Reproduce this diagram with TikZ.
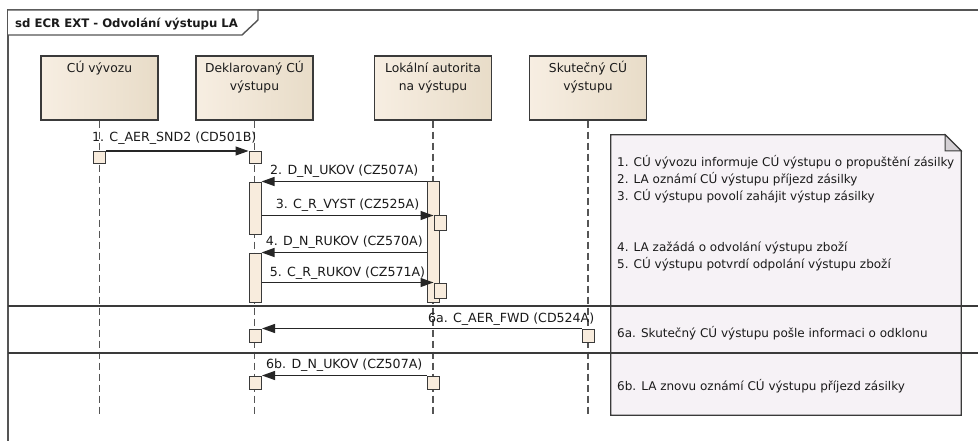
\documentclass[tikz,border=0pt]{standalone}
\usepackage{fontspec}
\setmainfont{DejaVu Sans}
\usetikzlibrary{arrows.meta}
\definecolor{framec}{HTML}{555555}
\definecolor{linec}{HTML}{3A3A3A}
\definecolor{txtc}{HTML}{1A1A1A}
\definecolor{headl}{HTML}{F7EEE2}
\definecolor{headr}{HTML}{E8DCC8}
\definecolor{actc}{HTML}{F8ECDD}
\definecolor{notec}{HTML}{F6F2F6}
\definecolor{foldc}{HTML}{D4D0D4}
\tikzset{
  head/.style={draw=linec, line width=1.2pt, left color=headl, right color=headr,
    minimum width=117pt, minimum height=64pt, inner sep=0pt},
  hl/.style={anchor=base, inner sep=0pt, text=txtc, font=\fontsize{12.3}{15}\selectfont},
  life/.style={draw=framec, line width=1.3pt, dash pattern=on 7pt off 4pt},
  act/.style={draw=linec, line width=1pt, fill=actc, minimum width=12pt, inner sep=0pt},
  msg/.style={draw=black!85, line width=1.1pt, -{Triangle[length=13pt,width=9pt]}},
  lbl/.style={inner sep=0pt, text=txtc, font=\fontsize{12.6}{15}\selectfont},
  nt/.style={anchor=base west, inner sep=0pt, text=txtc, font=\fontsize{12}{15}\selectfont},
  sepline/.style={draw=linec, line width=1.4pt},
}
\begin{document}
\begin{tikzpicture}[x=1pt,y=-1pt]
\useasboundingbox[fill=white] (0,0) rectangle (978,441);

% frame
\coordinate (ftl) at (8,10);
\coordinate (ftr) at (978,10);
\coordinate (fbl) at (8,441);
\draw[framec, line width=1.6pt] (fbl) -- (ftl) -- (ftr);
\draw[framec, line width=1.4pt, fill=white] (8,10) -- (258,10) -- (258,20) -- (242,35) -- (8,35);
\node[anchor=base west, inner sep=0pt, text=txtc, font=\bfseries\fontsize{11.7}{14}\selectfont] (title) at (15,28) {sd ECR EXT - Odvolání výstupu LA};

% note
\node[inner sep=0pt, minimum width=350pt, minimum height=280pt] (note) at (786,275) {};
\draw[linec, line width=1.3pt, fill=notec] (note.north west) -- ([xshift=-16pt]note.north east) -- ([yshift=-16pt]note.north east) -- (note.south east) -- (note.south west) -- cycle;
\draw[linec, line width=1pt, fill=foldc] ([xshift=-16pt]note.north east) -- ([xshift=-16pt,yshift=-16pt]note.north east) -- ([yshift=-16pt]note.north east) -- cycle;

\node[nt] (n1) at (617,166.7) {1. CÚ vývozu informuje CÚ výstupu o propuštění zásilky};
\node[nt] (n2) at (617,183.5) {2. LA oznámí CÚ výstupu příjezd zásilky};
\node[nt] (n3) at (617,200.5) {3. CÚ výstupu povolí zahájit výstup zásilky};
\node[nt] (n4) at (617,251.5) {4. LA zažádá o odvolání výstupu zboží};
\node[nt] (n5) at (617,268.5) {5. CÚ výstupu potvrdí odpolání výstupu zboží};
\node[nt] (n6) at (617,337.5) {6a. Skutečný CÚ výstupu pošle informaci o odklonu};
\node[nt] (n7) at (617,390) {6b. LA znovu oznámí CÚ výstupu příjezd zásilky};

% heads
\node[head] (h1) at (99.5,88) {};
\node[head] (h2) at (254.5,88) {};
\node[head] (h3) at (433,88) {};
\node[head] (h4) at (588,88) {};
\node[hl] (t1) at (99.5,73) {CÚ vývozu};
\node[hl] (t2a) at (254.5,73) {Deklarovaný CÚ};
\node[hl] (t2b) at (254.5,91) {výstupu};
\node[hl] (t3a) at (433,73) {Lokální autorita};
\node[hl] (t3b) at (433,91) {na výstupu};
\node[hl] (t4a) at (588,73) {Skutečný CÚ};
\node[hl] (t4b) at (588,91) {výstupu};

% lifelines
\coordinate (e1) at (99.5,415);
\coordinate (e2) at (254.5,415);
\coordinate (e3) at (433,415);
\coordinate (e4) at (588,415);
\draw[life] (h1.south) -- (e1);
\draw[life] (h2.south) -- (e2);
\draw[life] (h3.south) -- (e3);
\draw[life] (h4.south) -- (e4);

% activations
\node[act, minimum height=12pt] (m1s) at (99.5,157.5) {};
\node[act, minimum height=12pt] (m1t) at (255,157.5) {};
\node[act, minimum height=120pt] (la) at (433.5,242) {};
\node[act, minimum height=51pt] (dA) at (255,208.5) {};
\node[act, minimum height=49pt] (dB) at (255,277.5) {};
\node[act, minimum height=14pt] (k1) at (440,223) {};
\node[act, minimum height=15pt] (k2) at (440,290.5) {};
\node[act, minimum height=13pt] (s6a) at (588,335.5) {};
\node[act, minimum height=13pt] (d6a) at (255.5,335.5) {};
\node[act, minimum height=13pt] (la6b) at (433,382.5) {};
\node[act, minimum height=13pt] (d6b) at (255.5,382.5) {};

% messages
\draw[msg] (m1s.north east) -- node[lbl, above=6pt, xshift=-3pt] (l1) {1. C\_AER\_SND2 (CD501B)} (m1t.north west);
\draw[msg] (la.north west) -- node[lbl, above=3.5pt] (l2) {2. D\_N\_UKOV (CZ507A)} (la.north west -| dA.east);
\draw[msg] (dA.east |- k1.north west) -- node[lbl, above=3pt] (l3) {3. C\_R\_VYST (CZ525A)} (k1.north west);
\draw[msg] (dB.north east -| la.west) -- node[lbl, above=3pt] (l4) {4. D\_N\_RUKOV (CZ570A)} (dB.north east);
\draw[msg] (dB.east |- k2.north west) -- node[lbl, above=2.5pt] (l5) {5. C\_R\_RUKOV (CZ571A)} (k2.north west);
\draw[msg] (s6a.north west) -- (d6a.north east);
\node[lbl, anchor=base east] (l6a) at ([yshift=6pt]s6a.north east) {6a. C\_AER\_FWD (CD524A)};
\draw[msg] (la6b.north west) -- node[lbl, above=3pt] (l6b) {6b. D\_N\_UKOV (CZ507A)} (d6b.north east);

% fragment separators
\coordinate (sa1) at (8,306);
\coordinate (sa2) at (978,306);
\coordinate (sb1) at (8,353);
\coordinate (sb2) at (978,353);
\draw[sepline] (sa1) -- (sa2);
\draw[sepline] (sb1) -- (sb2);
\end{tikzpicture}
\end{document}
